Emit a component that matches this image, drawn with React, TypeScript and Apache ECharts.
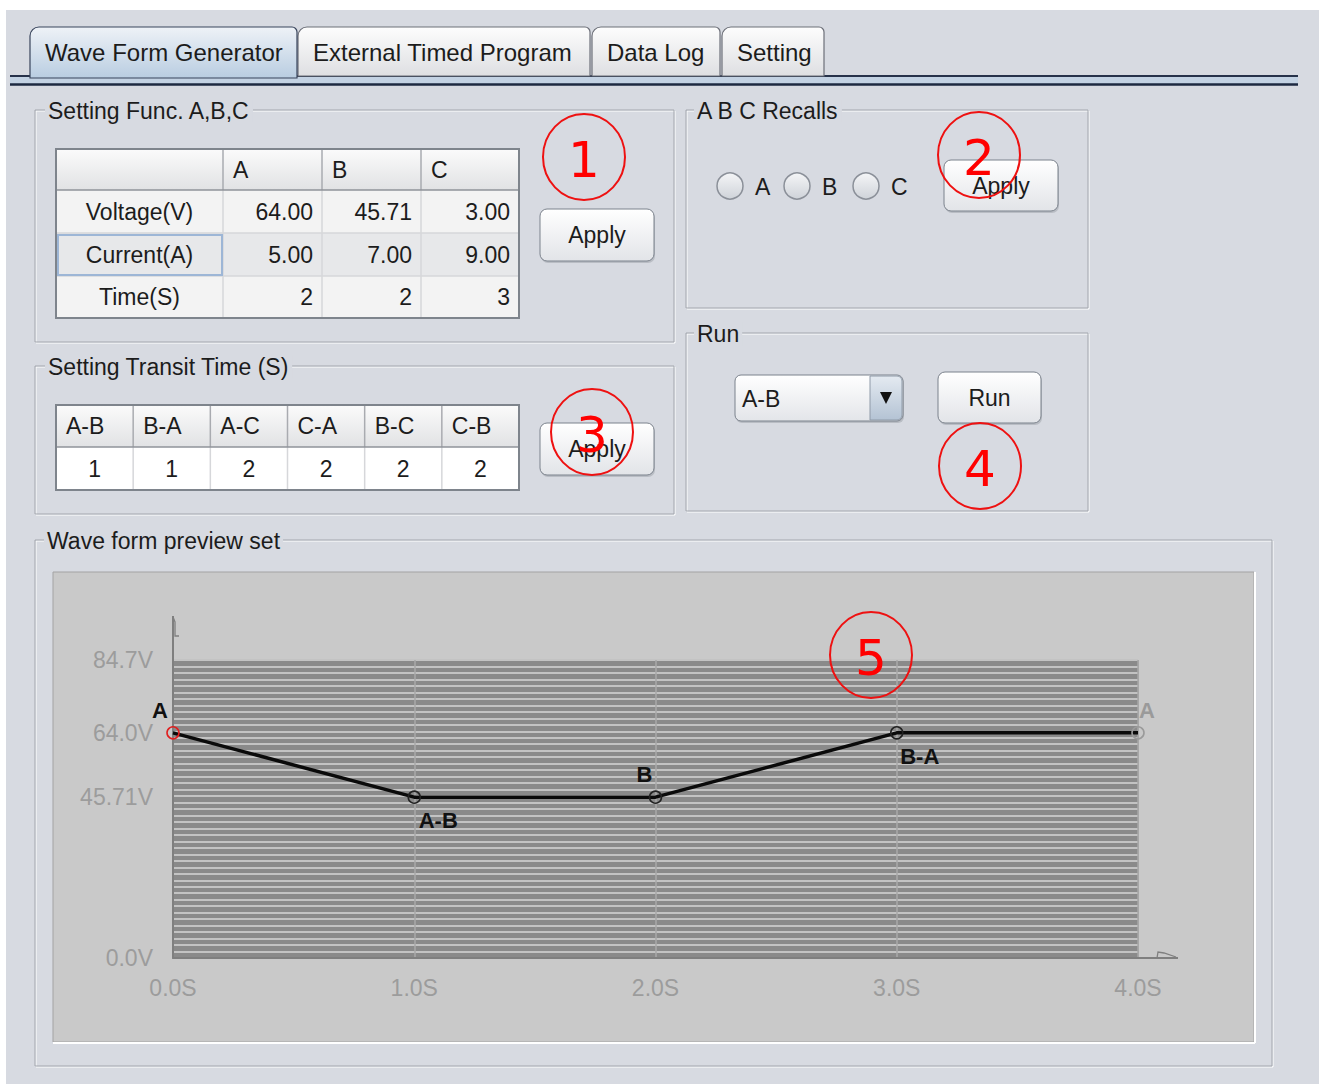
import React, { useEffect, useRef } from "react";
import * as echarts from "echarts";

// ---------- data ----------
const tabNames = ["Wave Form Generator", "External Timed Program", "Data Log", "Setting"];
const funcCols = ["A", "B", "C"];
const funcRows = ["Voltage(V)", "Current(A)", "Time(S)"];
const funcVoltage = ["64.00", "45.71", "3.00"];
const funcCurrent = ["5.00", "7.00", "9.00"];
const funcTime = ["2", "2", "3"];
const transitCols = ["A-B", "B-A", "A-C", "C-A", "B-C", "C-B"];
const transitValues = ["1", "1", "2", "2", "2", "2"];
const recallOptions = ["A", "B", "C"];
const runSelection = "A-B";
const annotationNumbers = ["1", "2", "3", "4", "5"];

const waveTimes = [0, 1, 2, 3, 4];
const waveVolts = [64.0, 45.71, 45.71, 64.0, 64.0];
const wavePointLabels = ["A", "A-B", "B", "B-A", "A"];
const yTickValues = [0, 45.71, 64.0, 84.7];
const yTickLabels = ["0.0V", "45.71V", "64.0V", "84.7V"];
const xTickValues = [0, 1, 2, 3, 4];
const xTickLabels = ["0.0S", "1.0S", "2.0S", "3.0S", "4.0S"];

// ---------- styles ----------
const FONT = "Liberation Sans";
const BG = "#d7dae1";
const TXT = "#1c1c1c";

const grad = (c0: string, c1: string) =>
  new echarts.graphic.LinearGradient(0, 0, 0, 1, [
    { offset: 0, color: c0 },
    { offset: 1, color: c1 },
  ]);

const text = (x: number, y: number, t: string, o: any = {}) => ({
  type: "text",
  x,
  y,
  z: o.z ?? 5,
  style: {
    text: t,
    fill: o.fill ?? TXT,
    fontSize: o.fontSize ?? 23,
    fontFamily: o.fontFamily ?? FONT,
    fontWeight: o.fontWeight ?? "normal",
    textAlign: o.align ?? "left",
    textVerticalAlign: "middle",
    backgroundColor: o.bg,
    padding: o.padding,
  },
});

const rect = (x: number, y: number, w: number, h: number, o: any = {}) => ({
  type: "rect",
  z: o.z ?? 1,
  shape: { x, y, width: w, height: h, r: o.r ?? 0 },
  style: {
    fill: o.fill ?? "none",
    stroke: o.stroke ?? "none",
    lineWidth: o.lw ?? 1,
  },
});

const line = (x1: number, y1: number, x2: number, y2: number, o: any = {}) => ({
  type: "line",
  z: o.z ?? 2,
  shape: { x1, y1, x2, y2 },
  style: { stroke: o.stroke ?? "#888", lineWidth: o.lw ?? 1 },
});

const groupBox = (x: number, y: number, w: number, h: number, title: string, tx: number) => [
  rect(x + 1, y + 1, w, h, { stroke: "#ffffff", z: 1 }),
  rect(x, y, w, h, { stroke: "#a2a6ad", z: 1 }),
  text(tx, y + 1, title, { bg: BG, padding: [0, 3, 0, 3], z: 3 }),
];

const button = (x: number, y: number, w: number, h: number, label: string) => [
  rect(x + 1, y + 2, w, h, { fill: "#b9bdc4", r: 7, z: 2 }),
  rect(x, y, w, h, { fill: grad("#ffffff", "#e2e4e8"), stroke: "#7b828c", r: 7, z: 3 }),
  text(x + w / 2, y + h / 2, label, { align: "center", z: 4 }),
];

const ellipseMark = (cx: number, cy: number, label: string) => [
  {
    type: "ellipse",
    z: 100,
    shape: { cx, cy, rx: 41, ry: 43 },
    style: { fill: "none", stroke: "#ee1111", lineWidth: 2 },
  },
  text(cx, cy + 3, label, { fill: "#ff0000", fontSize: 50, align: "center", fontFamily: "DejaVu Sans", z: 101 }),
];

function buildGraphic() {
  const g: any[] = [];
  // page background
  g.push(rect(0, 0, 1319, 1084, { fill: "#ffffff", z: -20 }));
  g.push(rect(6, 10, 1313, 1074, { fill: BG, z: -19 }));

  // tab band
  g.push(rect(10, 76, 1288, 8, { fill: "#c3d2e3", z: 1 }));
  g.push(line(10, 76, 31, 76, { stroke: "#27324a", lw: 2 }));
  g.push(line(297, 76, 1298, 76, { stroke: "#27324a", lw: 2 }));
  g.push(line(10, 84.5, 1298, 84.5, { stroke: "#1d2840", lw: 2.5 }));

  // tabs
  const tabX = [30, 298, 592, 722, 826];
  tabNames.forEach((t, i) => {
    const x0 = tabX[i];
    const x1 = tabX[i + 1] - (i === 0 ? 1 : 2);
    const sel = i === 0;
    g.push({
      type: "rect",
      z: sel ? 3 : 2,
      shape: { x: x0, y: 27, width: x1 - x0, height: sel ? 51 : 49, r: [9, 5, 0, 0] },
      style: {
        fill: sel ? grad("#eef2f7", "#b9cde1") : grad("#fdfdfd", "#dedfe2"),
        stroke: sel ? "#39455c" : "#6d7079",
        lineWidth: 1.2,
      },
    });
    g.push(text(x0 + 15, 52, t, { fontSize: 24, z: 5 }));
  });

  // group boxes
  g.push(...groupBox(35, 110, 639, 232, "Setting Func. A,B,C", 45));
  g.push(...groupBox(686, 110, 402, 198, "A B C Recalls", 694));
  g.push(...groupBox(35, 366, 639, 148, "Setting Transit Time (S)", 45));
  g.push(...groupBox(686, 333, 402, 178, "Run", 694));
  g.push(...groupBox(35, 540, 1237, 526, "Wave form preview set", 44));

  // ---- table 1 ----
  const cX = [56, 223, 322, 421, 519];
  const rY = [149, 190, 233, 276, 318];
  g.push(rect(56, 149, 463, 41, { fill: grad("#fbfbfb", "#e1e2e4"), z: 2 }));
  const rowVals = [funcVoltage, funcCurrent, funcTime];
  funcRows.forEach((r, i) => {
    g.push(rect(56, rY[i + 1], 463, rY[i + 2] - rY[i + 1], { fill: i === 1 ? "#e7e8ea" : "#f3f3f3", z: 2 }));
  });
  for (let i = 1; i < 4; i++) {
    g.push(line(cX[i], 149, cX[i], 190, { stroke: "#a9abb0", lw: 1.5, z: 3 }));
    g.push(line(cX[i], 190, cX[i], 318, { stroke: "#d6d7da", lw: 1.5, z: 3 }));
  }
  g.push(line(56, 190, 519, 190, { stroke: "#8f939a", lw: 1.5, z: 3 }));
  g.push(line(56, 233, 519, 233, { stroke: "#d6d7da", lw: 1.5, z: 3 }));
  g.push(line(56, 276, 519, 276, { stroke: "#d6d7da", lw: 1.5, z: 3 }));
  g.push(rect(58, 235, 164, 40, { stroke: "#9db6d6", lw: 2, z: 4 }));
  g.push(rect(56, 149, 463, 169, { stroke: "#7e848c", lw: 2, z: 4 }));
  funcCols.forEach((c, i) => g.push(text(cX[i + 1] + 10, 170, c)));
  funcRows.forEach((r, i) => {
    const cy = (rY[i + 1] + rY[i + 2]) / 2;
    g.push(text(139.5, cy, r, { align: "center" }));
    rowVals[i].forEach((v, j) => g.push(text(cX[j + 2] - 9, cy, v, { align: "right" })));
  });
  g.push(...button(540, 209, 114, 52, "Apply"));

  // ---- table 2 ----
  const tX = transitCols.map((_, i) => 56 + (463 * i) / 6);
  g.push(rect(56, 405, 463, 42, { fill: grad("#fbfbfb", "#e1e2e4"), z: 2 }));
  g.push(rect(56, 447, 463, 43, { fill: "#ffffff", z: 2 }));
  for (let i = 1; i < 6; i++) {
    g.push(line(tX[i], 405, tX[i], 447, { stroke: "#a9abb0", lw: 1.5, z: 3 }));
    g.push(line(tX[i], 447, tX[i], 490, { stroke: "#d6d7da", lw: 1.5, z: 3 }));
  }
  g.push(line(56, 447, 519, 447, { stroke: "#8f939a", lw: 1.5, z: 3 }));
  g.push(rect(56, 405, 463, 85, { stroke: "#7e848c", lw: 2, z: 4 }));
  transitCols.forEach((c, i) => {
    g.push(text(tX[i] + 10, 426, c));
    g.push(text(tX[i] + 463 / 12, 469, transitValues[i], { align: "center" }));
  });
  g.push(...button(540, 423, 114, 52, "Apply"));

  // ---- recalls ----
  const radioX = [730, 797, 866];
  recallOptions.forEach((o, i) => {
    g.push({
      type: "circle",
      z: 3,
      shape: { cx: radioX[i], cy: 186, r: 13 },
      style: { fill: grad("#f4f5f7", "#cfd3d9"), stroke: "#8b9099", lineWidth: 1.5 },
    });
    g.push(text(radioX[i] + 25, 187, o));
  });
  g.push(...button(944, 160, 114, 51, "Apply"));

  // ---- run ----
  g.push(rect(736, 377, 168, 46, { fill: "#b9bdc4", r: 6, z: 2 }));
  g.push(rect(735, 375, 168, 46, { fill: grad("#ffffff", "#e3e5e9"), stroke: "#7b828c", r: 6, z: 3 }));
  g.push({
    type: "rect",
    z: 4,
    shape: { x: 870, y: 376, width: 32, height: 44, r: [0, 5, 5, 0] },
    style: { fill: grad("#e4eaf1", "#b4c3d4"), stroke: "#8f9aa8", lineWidth: 1 },
  });
  g.push({
    type: "polygon",
    z: 5,
    shape: { points: [[880, 392], [892, 392], [886, 404]] },
    style: { fill: "#111111" },
  });
  g.push(text(742, 399, runSelection));
  g.push(...button(938, 372, 103, 51, "Run"));

  // ---- preview panel ----
  g.push(rect(53, 572, 1201, 470, { fill: "#c9c9c9", stroke: "#a3a3a3", z: 1 }));
  g.push(line(1255, 572, 1255, 1043, { stroke: "#ffffff", lw: 2, z: 1 }));
  g.push(line(53, 1043, 1255, 1043, { stroke: "#ffffff", lw: 2, z: 1 }));

  // axis extensions (decoration)
  g.push(line(173, 616, 173, 660, { stroke: "#7f7f7f", lw: 2, z: 6 }));
  g.push({
    type: "polyline",
    z: 6,
    shape: { points: [[173, 617], [175, 622], [175, 636], [179, 636]] },
    style: { stroke: "#7f7f7f", lineWidth: 1.3, fill: "none" },
  });
  g.push(line(1138, 958, 1178, 958, { stroke: "#7f7f7f", lw: 2, z: 6 }));
  g.push({
    type: "polyline",
    z: 6,
    shape: { points: [[1157, 958], [1158, 952], [1164, 953], [1176, 957]] },
    style: { stroke: "#7f7f7f", lineWidth: 1.3, fill: "none" },
  });

  // red annotation marks
  const marks = [
    [584, 157],
    [979, 155],
    [592, 432],
    [980, 466],
    [871, 655],
  ];
  marks.forEach((m, i) => g.push(...ellipseMark(m[0], m[1], annotationNumbers[i])));
  return g;
}

const labelCfg = [
  { position: "top", offset: [-13, 0], color: "#111" },
  { position: "bottom", offset: [24, 1], color: "#111" },
  { position: "top", offset: [-11, 0], color: "#111" },
  { position: "bottom", offset: [23, 1], color: "#111" },
  { position: "top", offset: [9, 0], color: "#9a9a9a" },
];
const symbolBorder = ["#e02020", "#222222", "#222222", "#222222", "#9a9a9a"];

export default function App() {
  const ref = useRef<HTMLDivElement>(null);
  useEffect(() => {
    if (!ref.current) return;
    const chart = echarts.init(ref.current, undefined, { renderer: "svg" });
    const data = waveTimes.map((t, i) => ({
      value: [t, waveVolts[i]],
      itemStyle: { color: "rgba(0,0,0,0)", borderColor: symbolBorder[i], borderWidth: 1.6 },
      label: {
        show: true,
        formatter: wavePointLabels[i],
        position: labelCfg[i].position,
        offset: labelCfg[i].offset,
        color: labelCfg[i].color,
        fontWeight: "bold",
        fontSize: 22,
        fontFamily: FONT,
      },
    }));
    const yLabelMap: Record<string, string> = {};
    yTickValues.forEach((v, i) => (yLabelMap[String(v)] = yTickLabels[i]));
    const xLabelMap: Record<string, string> = {};
    xTickValues.forEach((v, i) => (xLabelMap[String(v)] = xTickLabels[i]));

    chart.setOption({
      animation: false,
      backgroundColor: "transparent",
      grid: {
        left: 173,
        top: 660,
        width: 965,
        height: 298,
        show: true,
        backgroundColor: "#8a8a8a",
        borderColor: "#7d7d7d",
        borderWidth: 1,
        z: 2,
      },
      xAxis: {
        type: "value",
        min: 0,
        max: 4,
        interval: 1,
        z: 3,
        axisLine: { show: true, lineStyle: { color: "#7f7f7f", width: 2 } },
        axisTick: { show: false },
        splitLine: { show: true, lineStyle: { color: "#a9a9a9", width: 1.5 } },
        axisLabel: {
          customValues: xTickValues,
          formatter: (v: number) => xLabelMap[String(v)] ?? "",
          color: "#9c9c9c",
          fontSize: 23,
          fontFamily: FONT,
          margin: 18,
        },
      },
      yAxis: [
        {
          type: "value",
          min: 0,
          max: 84.7,
          z: 3,
          axisLine: { show: true, lineStyle: { color: "#7f7f7f", width: 2 } },
          axisTick: { show: false },
          splitLine: { show: false },
          axisLabel: {
            customValues: yTickValues,
            formatter: (v: number) => yLabelMap[String(v)] ?? "",
            color: "#9c9c9c",
            fontSize: 23,
            fontFamily: FONT,
            margin: 20,
            showMaxLabel: true,
            showMinLabel: true,
          },
        },
        {
          type: "value",
          min: 0,
          max: 46,
          interval: 1,
          position: "left",
          z: 2,
          axisLine: { show: false },
          axisTick: { show: false },
          axisLabel: { show: false },
          splitLine: { show: true, lineStyle: { color: "#c3c3c3", width: 2 } },
        },
      ],
      graphic: { elements: buildGraphic() },
      series: [
        {
          type: "line",
          yAxisIndex: 0,
          data,
          z: 5,
          clip: false,
          symbol: "circle",
          symbolSize: 12,
          lineStyle: { color: "#0a0a0a", width: 3.5 },
          itemStyle: { color: "rgba(0,0,0,0)" },
        },
      ],
    });
    return () => chart.dispose();
  }, []);
  return (
    <div
      ref={ref}
      style={{ position: "absolute", left: 0, top: 0, width: 1319, height: 1084 }}
    />
  );
}
